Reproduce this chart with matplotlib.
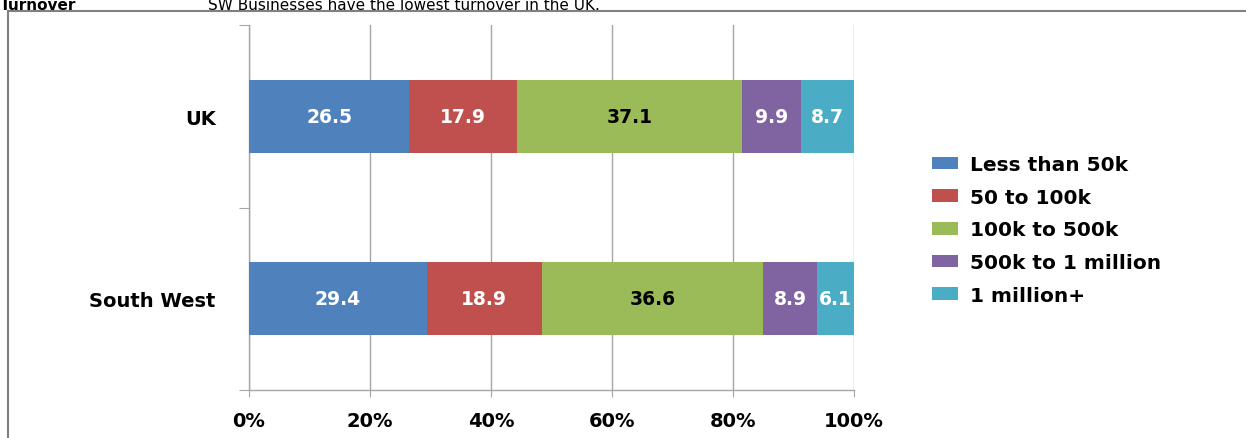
import matplotlib
matplotlib.use("Agg")
import matplotlib.pyplot as plt
from matplotlib.lines import Line2D
import numpy as np

regions = ["South West", "UK"]
series = ["Less than 50k", "50 to 100k", "100k to 500k", "500k to 1 million", "1 million+"]
values = {
    "Less than 50k": [29.4, 26.5],
    "50 to 100k": [18.9, 17.9],
    "100k to 500k": [36.6, 37.1],
    "500k to 1 million": [8.9, 9.9],
    "1 million+": [6.1, 8.7],
}
colors = ["#4F81BD", "#C0504D", "#9BBB59", "#8064A2", "#4BACC6"]
label_colors = ["white", "white", "black", "white", "white"]
xticks = [0, 20, 40, 60, 80, 100]
xticklabels = ["0%", "20%", "40%", "60%", "80%", "100%"]

plt.rcParams['font.family'] = ['DejaVu Sans']
fig = plt.figure(figsize=(12.46, 4.39), dpi=100)
ax = fig.add_axes([249/1246, 1-391/439, (854-249)/1246, (391-26)/439])

ypos = np.array([0.5, 1.5])
totals = np.sum([values[s] for s in series], axis=0)
left = np.zeros(len(regions))
for s, c, lc in zip(series, colors, label_colors):
    v = np.array(values[s])
    w = v / totals * 100
    ax.barh(ypos, w, left=left, height=0.4, color=c, label=s, zorder=3)
    for yy, l, ww, raw in zip(ypos, left, w, v):
        ax.text(l + ww/2, yy, f"{raw:.1f}", ha="center", va="center",
                color=lc, fontsize=13.5, fontweight="bold", zorder=4)
    left += w

gray = "#A6A6A6"
ax.set_xlim(0, 100)
ax.set_ylim(0, 2)
ax.set_xticks(xticks)
ax.set_xticklabels(xticklabels, fontsize=14, fontweight="bold")
ax.tick_params(axis="x", direction="out", length=5, color=gray, pad=10)
ax.set_yticks([0, 1, 2])
ax.set_yticklabels([])
ax.tick_params(axis="y", which="major", direction="out", length=7, color=gray)
ax.set_yticks(ypos, minor=True)
ax.set_yticklabels(regions, minor=True, fontsize=14, fontweight="bold")
ax.tick_params(axis="y", which="minor", length=0, pad=24)
ax.grid(axis="x", color=gray, linewidth=1, zorder=0)
for sp in ["top", "right"]:
    ax.spines[sp].set_visible(False)
for sp in ["left", "bottom"]:
    ax.spines[sp].set_color(gray)
    ax.spines[sp].set_linewidth(1)

handles, labels = ax.get_legend_handles_labels()
leg = fig.legend(handles, labels, loc="center left", bbox_to_anchor=(932/1246, 1-231/439),
                 frameon=False, prop={"weight": "bold", "size": 14.5},
                 handlelength=1.3, handleheight=0.6, handletextpad=0.6, labelspacing=0.68,
                 borderaxespad=0, borderpad=0)

# outer frame (top and left)
fig.add_artist(Line2D([8/1246, 1], [1-12/439, 1-12/439], transform=fig.transFigure, color="#808080", linewidth=1.5))
fig.add_artist(Line2D([8/1246, 8/1246], [0, 1-12/439], transform=fig.transFigure, color="#808080", linewidth=1.5))

# heading above the frame
fig.text(0/1246, 1-10.5/439, "Turnover", fontsize=11, fontweight="bold", va="baseline", ha="left")
fig.text(208/1246, 1-10.5/439, "SW Businesses have the lowest turnover in the UK.", fontsize=11, va="baseline", ha="left")

fig.savefig("out.png", dpi=100)
